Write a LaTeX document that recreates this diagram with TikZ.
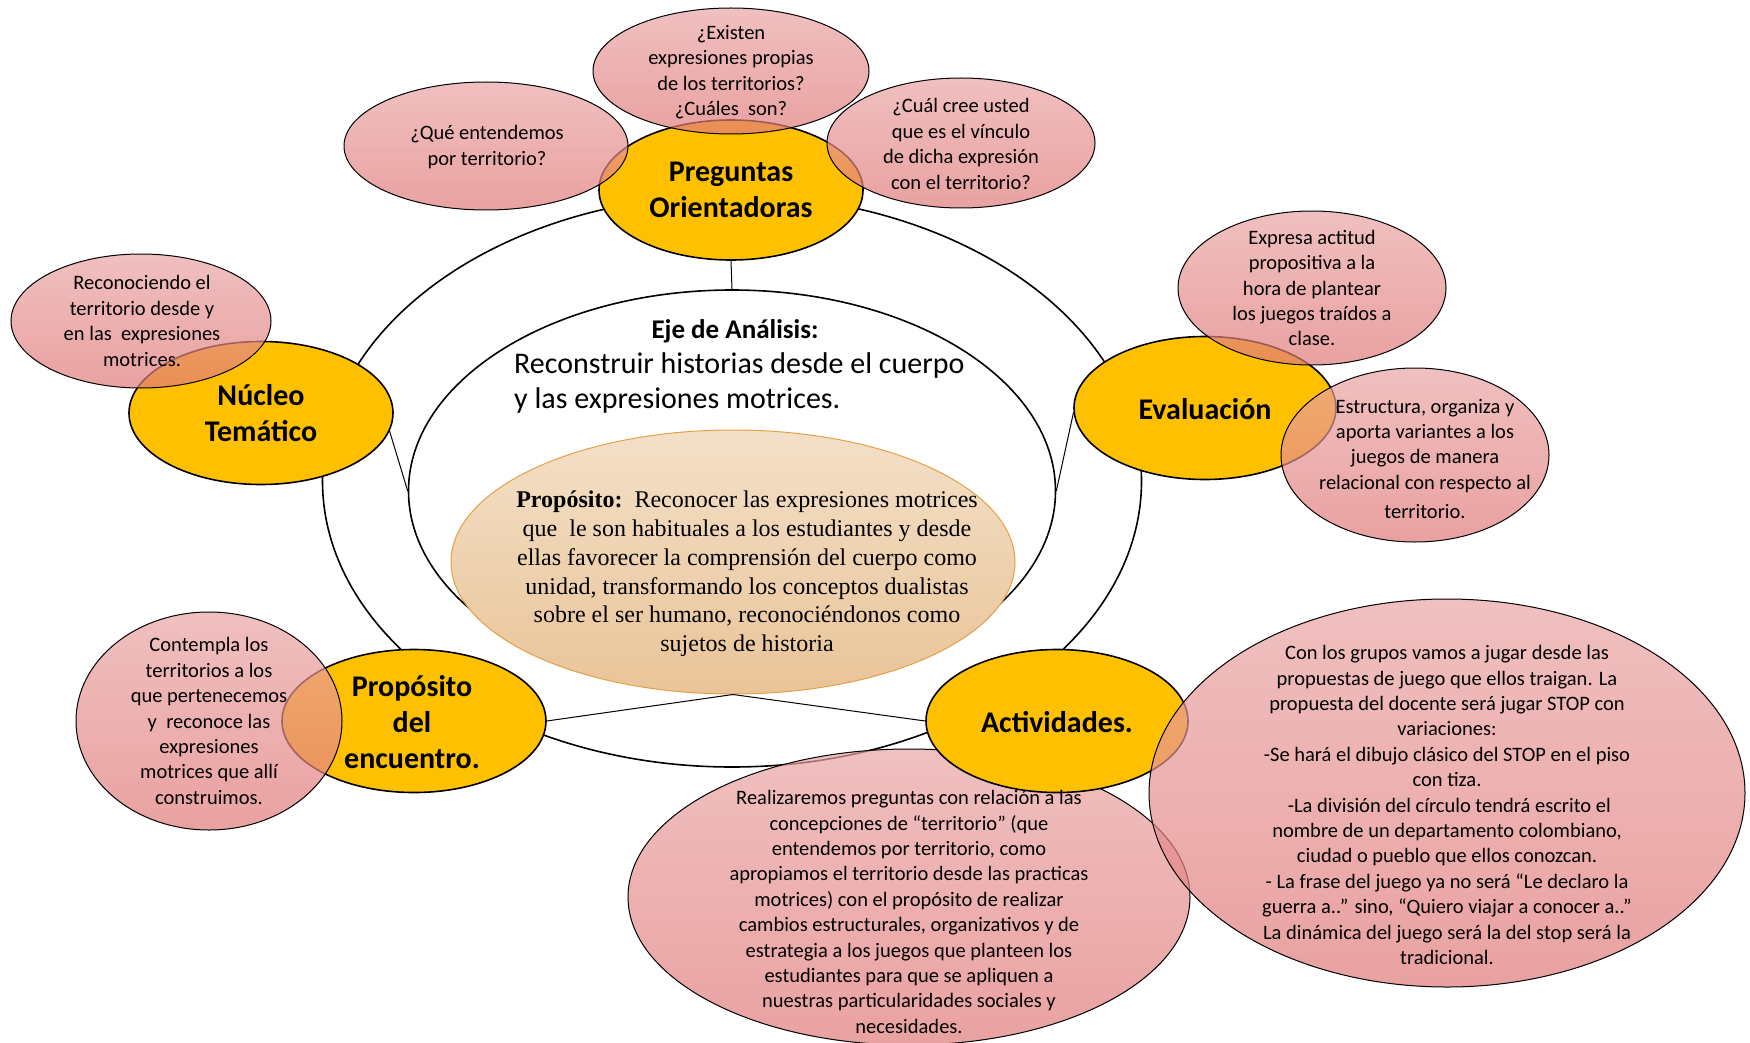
\documentclass[tikz,border=0pt]{standalone}
\usepackage{fontspec}
\setmainfont{Carlito}
\newfontfamily\propfont{Liberation Serif}
\usetikzlibrary{shapes.geometric}

\definecolor{hubyellow}{RGB}{255,192,0}
\definecolor{pinktop}{RGB}{234,165,165}
\definecolor{pinkbot}{RGB}{225,122,122}
\definecolor{tantop}{RGB}{243,224,200}
\definecolor{tanbot}{RGB}{233,196,152}
\definecolor{tanline}{RGB}{228,160,70}

\tikzset{
  ring/.style={ellipse, draw=black, line width=1.6pt, inner sep=0pt},
  hub/.style={ellipse, draw=black, line width=1.6pt, fill=hubyellow, inner sep=0pt},
  bubble/.style={ellipse, draw=black, line width=1pt, inner sep=0pt,
    top color=pinktop, bottom color=pinkbot, fill opacity=0.7, draw opacity=1},
  purpose/.style={ellipse, draw=tanline, line width=1pt, inner sep=0pt,
    top color=tantop, bottom color=tanbot},
  link/.style={draw=black, line width=1pt},
  hublabel/.style={font=\fontsize{30}{36}\selectfont\bfseries, align=center, inner sep=0pt},
  note/.style={font=\fontsize{20.5}{25.4}\selectfont, align=center, inner sep=0pt, text=black}
}

\begin{document}
\begin{tikzpicture}[x=1pt,y=-1pt]
\useasboundingbox (0,0) rectangle (1750,1043);
\fill[white] (0,0) rectangle (1750,1043);

% rings
\node[ring, minimum width=819pt, minimum height=572pt] (outer) at (732,481) {};
\node[ring, minimum width=647pt, minimum height=402pt] (eje) at (732,491) {};

% purpose of the session (centre)
\node[purpose, minimum width=564pt, minimum height=264pt] (pro) at (733,562) {};

% activity description that sits behind the hubs
\node[bubble, minimum width=562pt, minimum height=296pt] (ac2) at (909,897) {};

% yellow hubs
\node[hub, minimum width=264pt, minimum height=140pt] (pre) at (731,190) {};
\node[hub, minimum width=264pt, minimum height=143pt] (nuc) at (261,413) {};
\node[hub, minimum width=262pt, minimum height=143pt] (eva) at (1205,408) {};
\node[hub, minimum width=264pt, minimum height=143pt] (pde) at (414,721) {};
\node[hub, minimum width=262pt, minimum height=143pt] (act) at (1057,721) {};

% connectors
\draw[link] (pre.south) -- (eje.north);
\draw[link] (nuc.-8) -- (eje.west);
\draw[link] (eva.182) -- (eje.east);
\draw[link] (pde.east) -- (pro.south);
\draw[link] (act.west) -- (pro.south);

% pink bubbles
\node[bubble, minimum width=284pt, minimum height=128pt] (q1) at (486,146) {};
\node[bubble, minimum width=276pt, minimum height=126pt] (q2) at (731,71) {};
\node[bubble, minimum width=268pt, minimum height=130pt] (q3) at (961,143) {};
\node[bubble, minimum width=260pt, minimum height=134pt] (nt) at (141,321) {};
\node[bubble, minimum width=268pt, minimum height=154pt] (ev1) at (1312,288) {};
\node[bubble, minimum width=268pt, minimum height=174pt] (ev2) at (1415,455) {};
\node[bubble, minimum width=266pt, minimum height=218pt] (pd) at (209,721) {};
\node[bubble, minimum width=596pt, minimum height=388pt] (ac1) at (1447,793) {};

% hub labels
\node[hublabel] (pre-t) at (731,190) {Preguntas\\Orientadoras};
\node[hublabel] (nuc-t) at (261,413) {Núcleo\\Temático};
\node[hublabel] (eva-t) at (1205,409) {Evaluación};
\node[hublabel] (pde-t) at (412,722) {Propósito\\del\\encuentro.};
\node[hublabel] (act-t) at (1057,722) {Actividades.};

% axis of analysis
\node[font=\fontsize{27}{32}\selectfont\bfseries, inner sep=0pt] (eje-h) at (735,331) {Eje de Análisis:};
\node[font=\fontsize{30}{35}\selectfont, align=left, inner sep=0pt, anchor=west] (eje-t) at (514,383)
  {Reconstruir historias desde el cuerpo\\y las expresiones motrices.};

% purpose text
\node[font=\propfont\fontsize{24}{28.8}\selectfont, align=center, inner sep=0pt] (pro-t) at (747,574)
  {\textbf{Propósito:}\ \ Reconocer las expresiones motrices\\
   que\ \ le son habituales a los estudiantes\ y desde\\
   ellas favorecer la comprensión del cuerpo como\\
   unidad, transformando los conceptos dualistas\\
   sobre el ser humano, reconociéndonos como\\
   sujetos de historia};

% bubble texts
\node[note] (q1-t) at (487,147) {¿Qué entendemos\\por territorio?};
\node[note] (q2-t) at (731,72) {¿Existen\\expresiones propias\\de los territorios?\\¿Cuáles\ \ son?};
\node[note] (q3-t) at (961,144) {¿Cuál cree usted\\que es el vínculo\\de dicha expresión\\con el territorio?};
\node[note] (nt-t) at (142,321) {Reconociendo el\\territorio desde y\\en las\ \ expresiones\\motrices.};
\node[note] (ev1-t) at (1312,288) {Expresa actitud\\propositiva a la\\hora de plantear\\los juegos traídos a\\clase.};
\node[note] (ev2-t) at (1425,459) {Estructura, organiza y\\aporta variantes a los\\juegos de manera\\relacional con respecto al\\[4pt]territorio.};
\node[note] (pd-t) at (209,721) {Contempla los\\territorios a los\\que pertenecemos\\y\ \ reconoce las\\expresiones\\motrices que allí\\construimos.};
\node[note] (ac2-t) at (909,912) {Realizaremos preguntas con relación a las\\
  concepciones de “territorio” (que\\
  entendemos por territorio, como\\
  apropiamos el territorio desde las practicas\\
  motrices) con el propósito de realizar\\
  cambios estructurales, organizativos y de\\
  estrategia a los juegos que planteen los\\
  estudiantes para que se apliquen a\\
  nuestras particularidades sociales y\\
  necesidades.};
\node[note] (ac1-t) at (1447,805) {Con los grupos vamos a jugar desde las\\
  propuestas de juego que ellos traigan. La\\
  propuesta del docente será jugar STOP con\\
  variaciones:\\
  -Se hará el dibujo clásico del STOP en el piso\\
  con tiza.\\
  \ -La división del círculo tendrá escrito el\\
  nombre de un departamento colombiano,\\
  ciudad o pueblo que ellos conozcan.\\
  - La frase del juego ya no será “Le declaro la\\
  guerra a..” sino, “Quiero viajar a conocer a..”\\
  La dinámica del juego será la del stop será la\\
  tradicional.};
\end{tikzpicture}
\end{document}
